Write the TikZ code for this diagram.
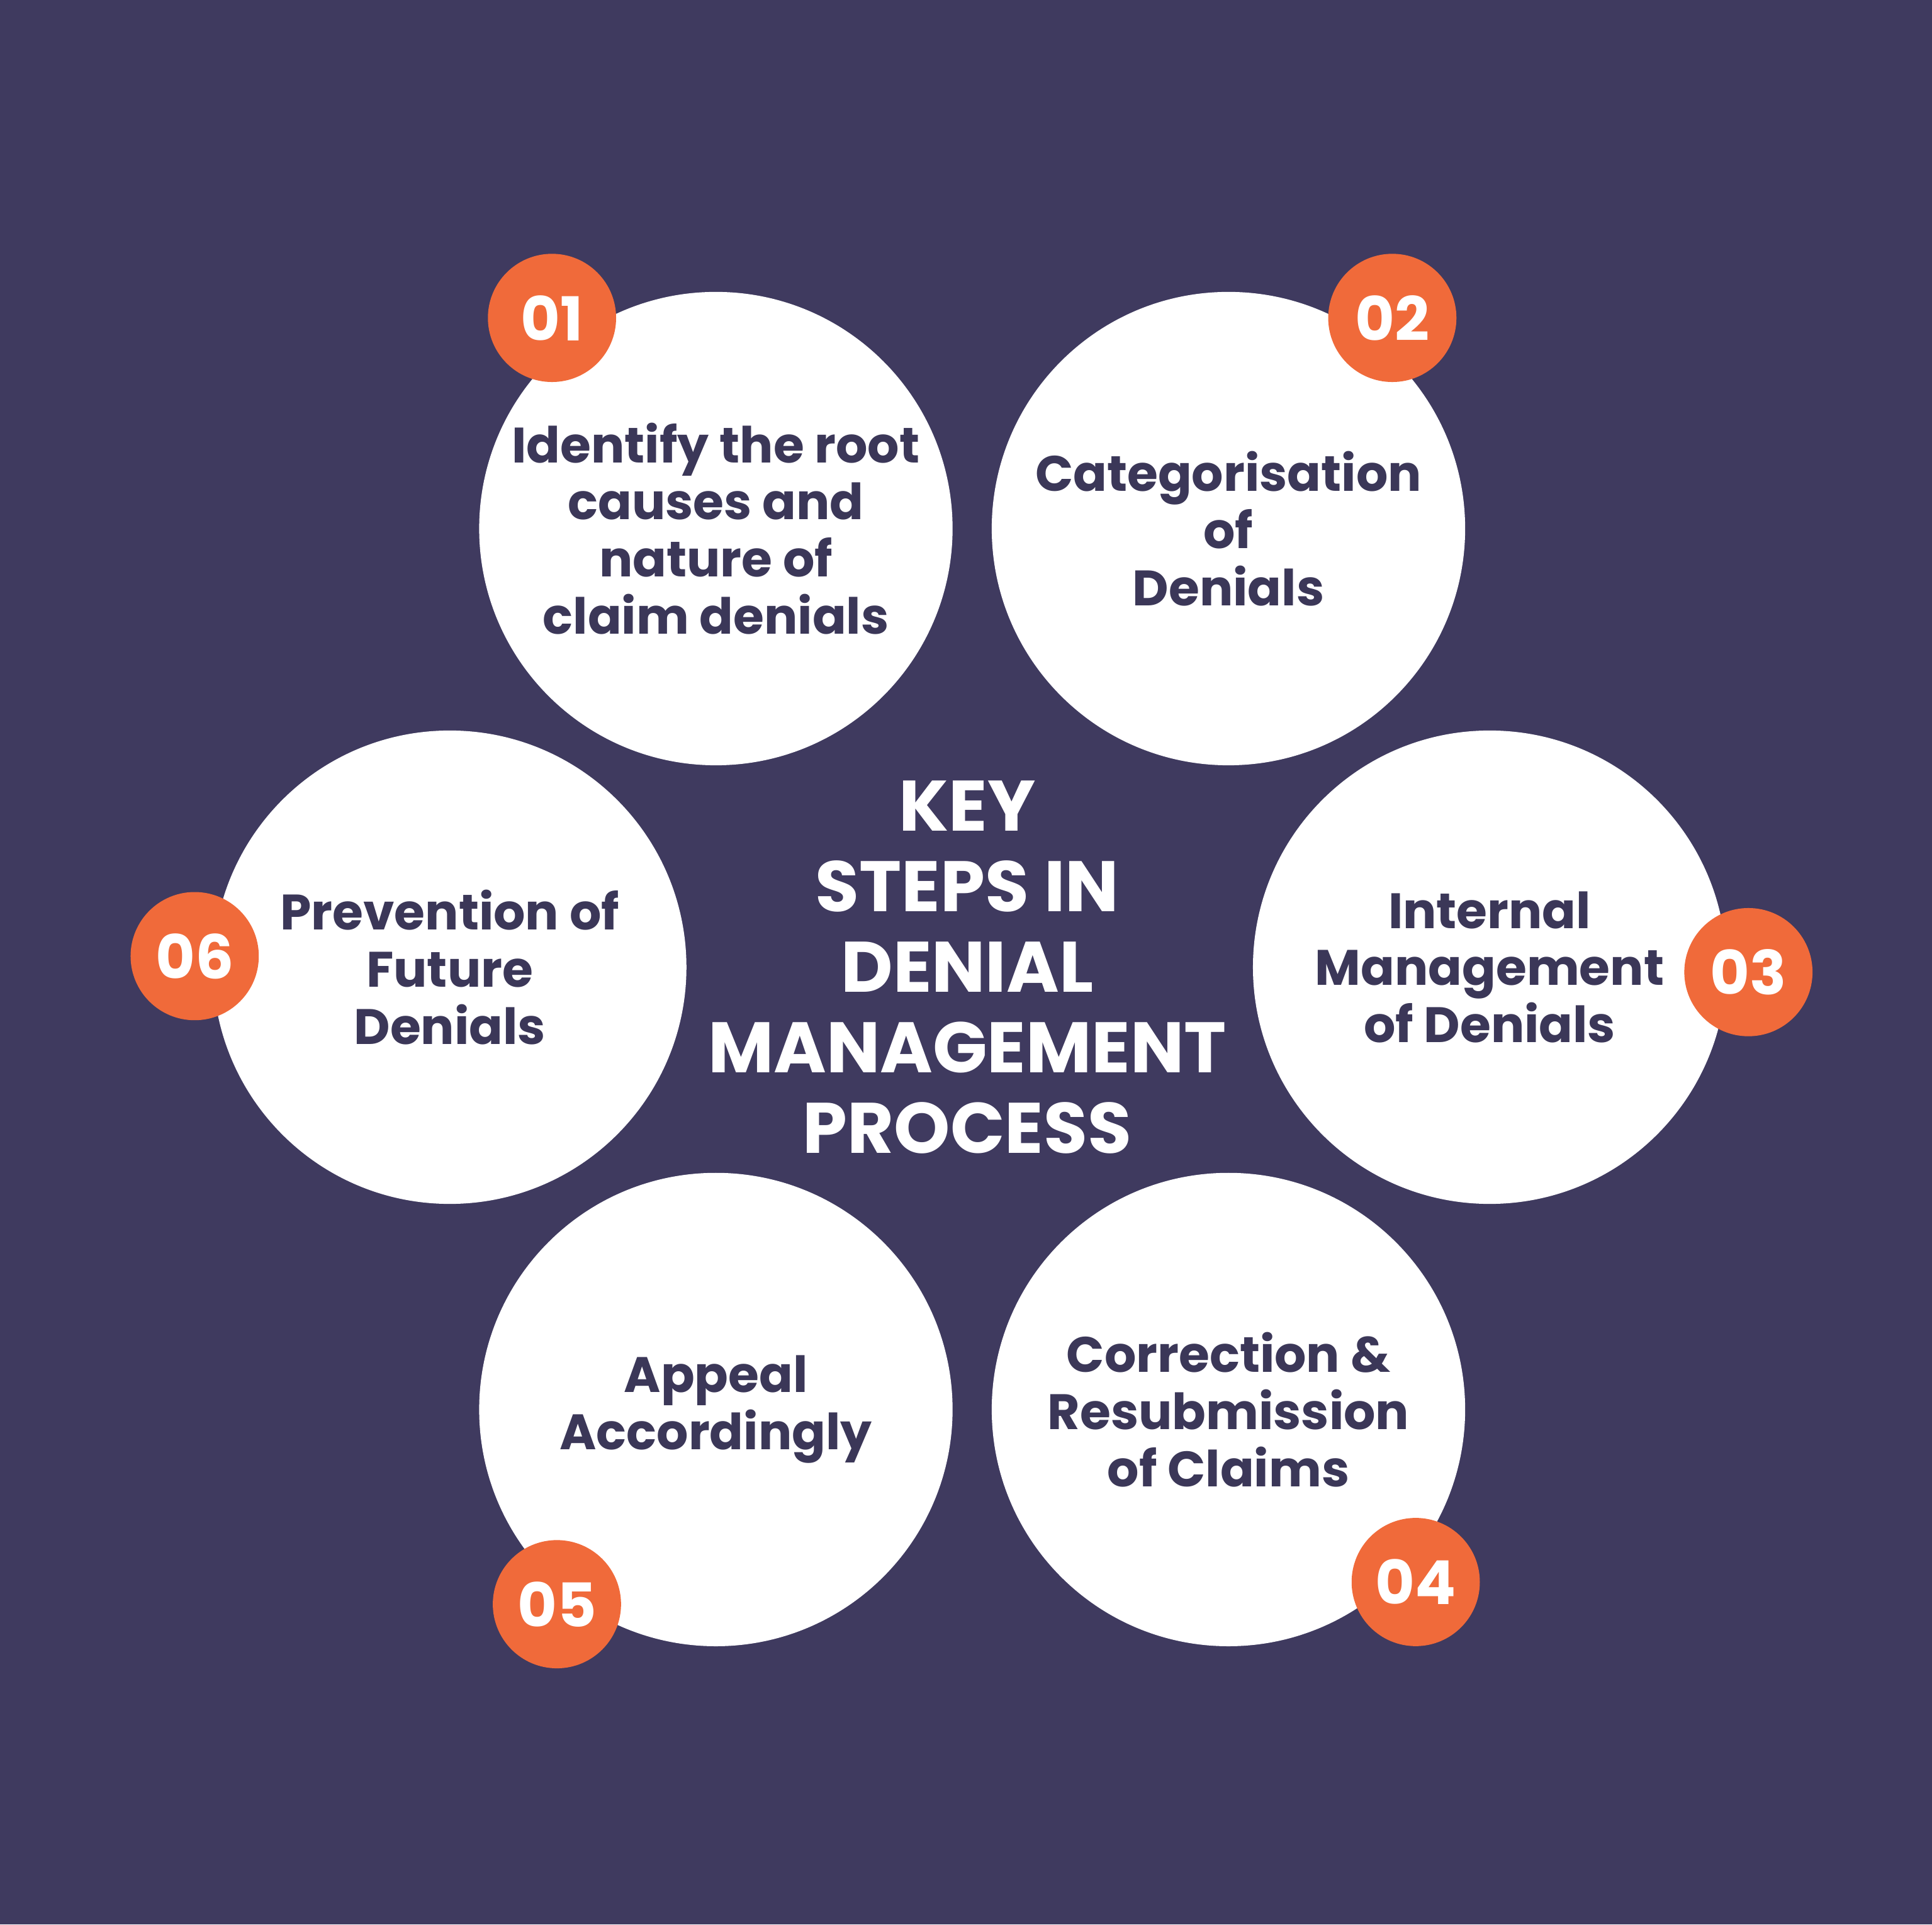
\documentclass[tikz,border=0pt]{standalone}
\usepackage{fontspec}
\setmainfont{Poppins}
\usepackage{tikz}
\definecolor{bgpurple}{HTML}{3F3A5F}
\definecolor{badgeorange}{HTML}{F06A3A}
\definecolor{stepink}{HTML}{3B3758}
\tikzstyle{stepcircle} = [shape=circle,minimum size=3.84cm,inner sep=0pt,fill=white,text=stepink,align=center,font=\fontsize{11.5}{13.2}\selectfont\bfseries]
\tikzstyle{badge}      = [shape=circle,minimum size=1.04cm,inner sep=0pt,fill=badgeorange,text=white,font=\fontsize{14}{16}\selectfont\bfseries]

\begin{document}
\begin{tikzpicture}[x=0.01cm,y=-0.01cm]
  \fill[bgpurple] (0,0) rectangle (1568,1562);
  \useasboundingbox (0,0) rectangle (1568,1562);

  % Steps
  \node[stepcircle] (c1) at (581,429)  {Identify the root\\causes and\\nature of\\claim denials};
  \node[stepcircle] (c2) at (997,429)  {Categorisation\\of\\Denials};
  \node[stepcircle] (c3) at (1209,785) {Internal\\Management\\of Denials};
  \node[stepcircle] (c4) at (997,1144) {Correction \&\\Resubmission\\of Claims};
  \node[stepcircle] (c5) at (581,1144) {Appeal\\Accordingly};
  \node[stepcircle] (c6) at (365,785)  {Prevention of\\Future\\Denials};

  % Numbers
  \node[badge] (b1) at (448,258)  {01};
  \node[badge] (b2) at (1130,258) {02};
  \node[badge] (b3) at (1419,789) {03};
  \node[badge] (b4) at (1149,1284) {04};
  \node[badge] (b5) at (452,1302) {05};
  \node[badge] (b6) at (158,776)  {06};

  % Title
  \node[text=white,align=center,font=\fontsize{16.5}{18.6}\selectfont\bfseries] (title) at (785,785)
    {KEY\\STEPS IN\\DENIAL\\MANAGEMENT\\PROCESS};
\end{tikzpicture}
\end{document}
